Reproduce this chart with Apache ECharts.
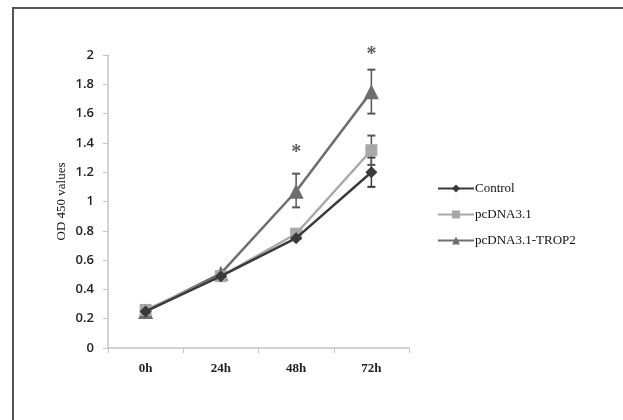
<!DOCTYPE html>
<html>
<head>
<meta charset="utf-8">
<script src="https://cdn.jsdelivr.net/npm/echarts@6/dist/echarts.min.js"></script>
<style>
  html, body { margin: 0; padding: 0; background: #fff; overflow: hidden; }
  #main { position: absolute; left: 0; top: 0; width: 623px; height: 420px; }
</style>
</head>
<body>
<div id="main"></div>
<script>
// time points
var categories = ['0h', '24h', '48h', '72h'];
var controlVals = [0.25, 0.49, 0.75, 1.20];
var pcdnaVals = [0.26, 0.49, 0.78, 1.35];
var tropVals = [0.25, 0.51, 1.07, 1.75];
// error bars: [category index, low, high]
var controlErr = [[3, 1.10, 1.30]];
var pcdnaErr = [[3, 1.25, 1.45]];
var tropErr = [[2, 0.96, 1.19], [3, 1.60, 1.90]];
// significance stars: [category index, y]
var stars = [[2, 1.33], [3, 2.0]];

var myChart = echarts.init(document.getElementById('main'));

function errItem(color) {
    return function (params, api) {
        var x = api.coord([api.value(0), 0])[0];
        var lo = api.coord([api.value(0), api.value(1)])[1];
        var hi = api.coord([api.value(0), api.value(2)])[1];
        var w = 4;
        return {
            type: 'group',
            children: [
                { type: 'line', shape: { x1: x, y1: lo, x2: x, y2: hi }, style: { stroke: color, lineWidth: 1.5 } },
                { type: 'line', shape: { x1: x - w, y1: lo, x2: x + w, y2: lo }, style: { stroke: color, lineWidth: 2 } },
                { type: 'line', shape: { x1: x - w, y1: hi, x2: x + w, y2: hi }, style: { stroke: color, lineWidth: 2 } }
            ]
        };
    };
}

var serif = '"Liberation Serif", "Times New Roman", serif';

option = {
    animation: false,
    // picture frame: top and left edges only
    graphic: [
        { type: 'polyline', shape: { points: [[13, 420], [13, 8], [623, 8]] },
          style: { stroke: '#555', lineWidth: 2, fill: null } }
    ],
    grid: { left: 108, right: 214, top: 55, bottom: 72 },
    legend: {
        orient: 'vertical',
        left: 432,
        top: 177,
        itemWidth: 36,
        itemHeight: 10,
        itemGap: 13,
        textStyle: { fontFamily: serif, fontSize: 13, color: '#111', padding: [0, 0, 0, -4] },
        data: ['Control', 'pcDNA3.1', 'pcDNA3.1-TROP2']
    },
    xAxis: {
        type: 'category',
        data: categories,
        boundaryGap: true,
        axisLine: { lineStyle: { color: '#c4c4c4', width: 1.5 } },
        axisTick: { show: true, length: 5, lineStyle: { color: '#c4c4c4' } },
        axisLabel: { fontFamily: serif, fontSize: 13, fontWeight: 'bold', color: '#222', margin: 14 }
    },
    yAxis: {
        type: 'value',
        min: 0,
        max: 2,
        interval: 0.2,
        name: 'OD 450 values',
        nameLocation: 'middle',
        nameGap: 40,
        nameTextStyle: { fontFamily: serif, fontSize: 13, color: '#111' },
        splitLine: { show: false },
        axisLine: { show: true, lineStyle: { color: '#c4c4c4', width: 1.5 } },
        axisTick: { show: true, length: 5, lineStyle: { color: '#c4c4c4' } },
        axisLabel: {
            fontFamily: '"Open Sans", "Liberation Sans", sans-serif',
            fontSize: 13, fontWeight: 600, color: '#222', margin: 14,
            formatter: function (v) { return String(Math.round(v * 10) / 10); }
        }
    },
    series: [
        { name: 'errControl', type: 'custom', renderItem: errItem('#3a3a3a'), data: controlErr, z: 1, silent: true },
        { name: 'errPcdna', type: 'custom', renderItem: errItem('#555'), data: pcdnaErr, z: 1, silent: true },
        { name: 'errTrop', type: 'custom', renderItem: errItem('#555'), data: tropErr, z: 1, silent: true },
        {
            name: 'pcDNA3.1-TROP2', type: 'line', data: tropVals, z: 3,
            symbol: 'triangle', symbolSize: 15,
            lineStyle: { width: 2.5, color: '#6e6e6e' },
            itemStyle: { color: '#6e6e6e' }
        },
        {
            name: 'pcDNA3.1', type: 'line', data: pcdnaVals, z: 4,
            symbol: 'rect', symbolSize: 12,
            lineStyle: { width: 2.5, color: '#a8a8a8' },
            itemStyle: { color: '#a8a8a8' }
        },
        {
            name: 'Control', type: 'line', data: controlVals, z: 5,
            symbol: 'diamond', symbolSize: 12,
            lineStyle: { width: 2.5, color: '#3a3a3a' },
            itemStyle: { color: '#3a3a3a' }
        },
        {
            type: 'scatter', data: stars, symbolSize: 0, z: 6,
            label: {
                show: true, position: 'inside', formatter: '*',
                fontFamily: serif, fontSize: 20, fontWeight: 'bold', color: '#333'
            }
        }
    ]
};

myChart.setOption(option);
</script>
</body>
</html>
